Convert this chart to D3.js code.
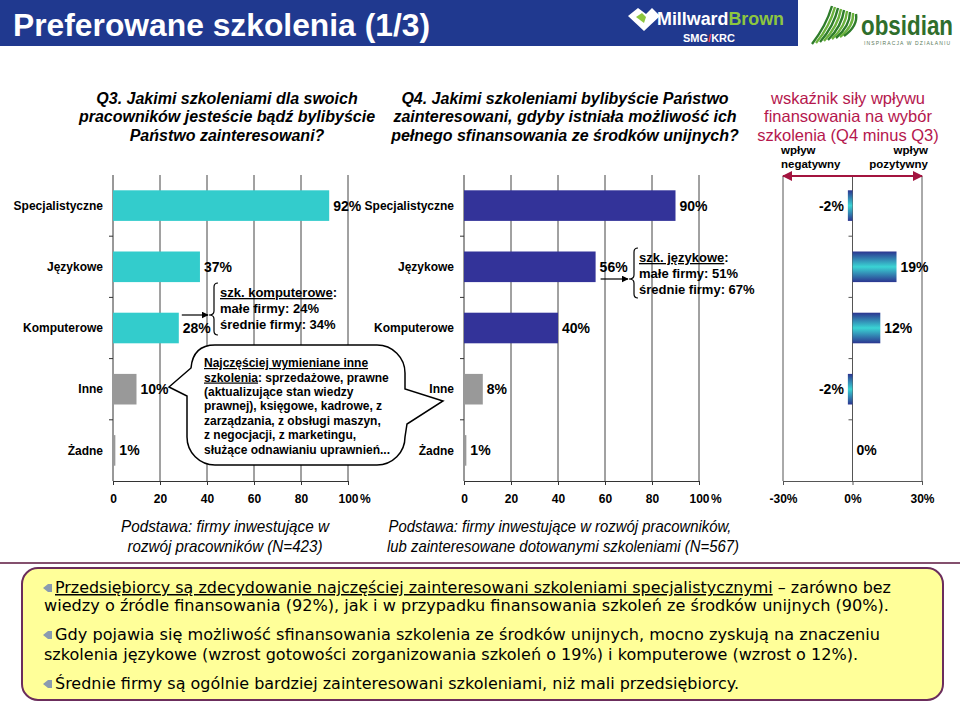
<!DOCTYPE html>
<html>
<head>
<meta charset="utf-8">
<script src="https://cdn.jsdelivr.net/npm/d3@7"></script>
<style>
  body { margin: 0; background: #fff; }
  svg { display: block; }
  text { font-family: "Liberation Sans", Arial, sans-serif; }
</style>
</head>
<body>
<div id="chart"></div>
<script>
// data
const categories = ["Specjalistyczne", "Językowe", "Komputerowe", "Inne", "Żadne"];
const q3Values = [92, 37, 28, 10, 1];
const q4Values = [90, 56, 40, 8, 1];
const diffValues = [-2, 19, 12, -2, 0];
const pctTicks = [0, 20, 40, 60, 80, 100];
const diffTicks = [-30, 0, 30];
const q3Colors = ["#33cccc", "#33cccc", "#33cccc", "#999999", "#999999"];
const q4Colors = ["#333399", "#333399", "#333399", "#999999", "#999999"];

const q3Title = ["Q3. Jakimi szkoleniami dla swoich", "pracowników jesteście bądź bylibyście", "Państwo zainteresowani?"];
const q4Title = ["Q4. Jakimi szkoleniami bylibyście Państwo", "zainteresowani, gdyby istniała możliwość ich", "pełnego sfinansowania ze środków unijnych?"];
const diffTitle = ["wskaźnik siły wpływu", "finansowania na wybór", "szkolenia (Q4 minus Q3)"];
const bubbleLines = ["(aktualizujące stan wiedzy", "prawnej), księgowe, kadrowe, z",
  "zarządzania, z obsługi maszyn,", "z negocjacji, z marketingu,", "służące odnawianiu uprawnień..."];

const width = 960;
const height = 706;
const plotTop = 175;
const plotBottom = 481;
const narrow = '"Liberation Sans Narrow", "Arial Narrow", "Liberation Sans", sans-serif';

const svg = d3.select("#chart").append("svg")
  .attr("width", width)
  .attr("height", height);

const defs = svg.append("defs");
const grad = defs.append("linearGradient")
  .attr("id", "diffGrad")
  .attr("x1", 0).attr("y1", 0).attr("x2", 0).attr("y2", 1);
grad.append("stop").attr("offset", "0%").attr("stop-color", "#2b3590");
grad.append("stop").attr("offset", "50%").attr("stop-color", "#3ad4d4");
grad.append("stop").attr("offset", "100%").attr("stop-color", "#2b3590");

// ---- header banner
svg.append("rect")
  .attr("x", 0).attr("y", 0)
  .attr("width", 798).attr("height", 46)
  .attr("fill", "#20398f");

svg.append("text")
  .attr("x", 13).attr("y", 36)
  .attr("fill", "#fff")
  .attr("font-size", 32)
  .attr("font-weight", "bold")
  .style("font-family", narrow)
  .attr("textLength", 417)
  .attr("lengthAdjust", "spacingAndGlyphs")
  .text("Preferowane szkolenia (1/3)");

// Millward Brown logo (rough)
const mb = svg.append("g");
mb.append("path")
  .attr("d", "M628,16 L638,8 L646,14 L652,8 L660,16 L644,31 Z")
  .attr("fill", "#fff");
mb.append("path")
  .attr("d", "M636,17 L642,13 L646,17 L644,23 Z")
  .attr("fill", "#8dc63f");
mb.append("text")
  .attr("x", 657).attr("y", 25)
  .attr("font-size", 18).attr("font-weight", "bold")
  .attr("textLength", 127).attr("lengthAdjust", "spacingAndGlyphs")
  .style("font-family", narrow)
  .call(t => {
    t.append("tspan").attr("fill", "#fff").text("Millward");
    t.append("tspan").attr("fill", "#8dc63f").text("Brown");
  });
mb.append("text")
  .attr("x", 683).attr("y", 42)
  .attr("font-size", 11).attr("font-weight", "bold")
  .call(t => {
    t.append("tspan").attr("fill", "#fff").text("SMG");
    t.append("tspan").attr("fill", "#ff3b3b").text("/");
    t.append("tspan").attr("fill", "#fff").text("KRC");
  });

// obsidian logo (rough)
const ob = svg.append("g");
d3.range(9).forEach(i => {
  ob.append("path")
    .attr("d", `M${812 + i * 4},${44 - i} Q${826 + i * 4},${26} ${832 + i * 3},${6 + i}`)
    .attr("fill", "none")
    .attr("stroke", i % 2 ? "#6bb23c" : "#2f7d2b")
    .attr("stroke-width", 2.4);
});
ob.append("text")
  .attr("x", 861).attr("y", 35)
  .attr("fill", "#2f6e2c")
  .attr("font-size", 28).attr("font-weight", "bold")
  .attr("textLength", 92).attr("lengthAdjust", "spacingAndGlyphs")
  .style("font-family", narrow)
  .text("obsidian");
ob.append("text")
  .attr("x", 864).attr("y", 45)
  .attr("fill", "#5a7a5a")
  .attr("font-size", 5)
  .attr("textLength", 86)
  .text("INSPIRACJA W DZIAŁANIU");

// ---- question titles
function titleBlock(lines, cx, opts) {
  svg.append("text")
    .attr("text-anchor", "middle")
    .attr("font-size", opts.size)
    .attr("font-weight", opts.weight)
    .attr("font-style", opts.style)
    .attr("fill", opts.color)
    .selectAll("tspan")
    .data(lines)
    .join("tspan")
    .attr("x", cx)
    .attr("y", (d, i) => 104 + i * 18.3)
    .text(d => d);
}
titleBlock(q3Title, 227, { size: 16, weight: "bold", style: "italic", color: "#000" });
titleBlock(q4Title, 565, { size: 16, weight: "bold", style: "italic", color: "#000" });
titleBlock(diffTitle, 848, { size: 16.5, weight: "normal", style: "normal", color: "#b5174d" });

// ---- shared band scale
const y = d3.scaleBand()
  .domain(categories)
  .range([plotTop, plotBottom])
  .paddingInner(0.5)
  .paddingOuter(0.25);
const gap = (y.step() - y.bandwidth()) / 2;
const boundaries = categories.map(c => y(c) - gap).slice(1);

function pctPanel(values, colors, x0, x1) {
  const x = d3.scaleLinear().domain([0, 100]).range([x0, x1]);
  const g = svg.append("g");

  g.selectAll("line.grid")
    .data(pctTicks.slice(1))
    .join("line")
    .attr("class", "grid")
    .attr("x1", x).attr("x2", x)
    .attr("y1", plotTop).attr("y2", plotBottom)
    .attr("stroke", "#444")
    .attr("stroke-width", 1);

  g.append("line")
    .attr("x1", x(0)).attr("x2", x(0))
    .attr("y1", plotTop).attr("y2", plotBottom)
    .attr("stroke", "#333");

  g.selectAll("line.ytick")
    .data(boundaries)
    .join("line")
    .attr("class", "ytick")
    .attr("x1", x(0) - 4).attr("x2", x(0))
    .attr("y1", d => d).attr("y2", d => d)
    .attr("stroke", "#333");

  const axis = d3.axisBottom(x)
    .tickValues(pctTicks)
    .tickSize(4)
    .tickSizeOuter(0)
    .tickPadding(9)
    .tickFormat(d => d);

  g.append("g")
    .attr("transform", `translate(0, ${plotBottom})`)
    .call(axis)
    .call(a => a.select(".domain").attr("stroke", "#333"))
    .call(a => a.selectAll(".tick line").attr("stroke", "#333"))
    .call(a => a.selectAll(".tick text")
      .attr("fill", "#000")
      .attr("font-size", 12)
      .attr("font-weight", "bold")
      .style("font-family", '"Liberation Sans", Arial, sans-serif'));

  g.append("text")
    .attr("x", x(100) + 12)
    .attr("y", plotBottom + 13)
    .attr("dy", "0.71em")
    .attr("font-size", 12)
    .attr("font-weight", "bold")
    .text("%");

  g.selectAll("rect.bar")
    .data(values)
    .join("rect")
    .attr("class", "bar")
    .attr("x", x(0))
    .attr("y", (d, i) => y(categories[i]))
    .attr("width", d => x(d) - x(0))
    .attr("height", y.bandwidth())
    .attr("fill", (d, i) => colors[i]);

  g.selectAll("text.cat")
    .data(categories)
    .join("text")
    .attr("class", "cat")
    .attr("x", x(0) - 10)
    .attr("y", d => y(d) + y.bandwidth() / 2)
    .attr("dy", "0.35em")
    .attr("text-anchor", "end")
    .attr("font-size", 12)
    .attr("font-weight", "bold")
    .text(d => d);

  g.selectAll("text.val")
    .data(values)
    .join("text")
    .attr("class", "val")
    .attr("x", d => x(d) + 4)
    .attr("y", (d, i) => y(categories[i]) + y.bandwidth() / 2)
    .attr("dy", "0.36em")
    .attr("font-size", 14)
    .attr("font-weight", "bold")
    .text(d => d + "%");

  return x;
}

const xQ3 = pctPanel(q3Values, q3Colors, 113, 348);
const xQ4 = pctPanel(q4Values, q4Colors, 464, 699);

// ---- difference panel
const xD = d3.scaleLinear().domain([-30, 30]).range([783, 922]);
const gd = svg.append("g");

gd.selectAll("line.vline")
  .data(diffTicks)
  .join("line")
  .attr("class", "vline")
  .attr("x1", xD).attr("x2", xD)
  .attr("y1", plotTop + 1).attr("y2", plotBottom)
  .attr("stroke", "#555");

gd.selectAll("line.ytick")
  .data(boundaries)
  .join("line")
  .attr("class", "ytick")
  .attr("x1", xD(0) - 4).attr("x2", xD(0))
  .attr("y1", d => d).attr("y2", d => d)
  .attr("stroke", "#555");

gd.append("g")
  .attr("transform", `translate(0, ${plotBottom})`)
  .call(d3.axisBottom(xD)
    .tickValues(diffTicks)
    .tickSize(4)
    .tickSizeOuter(0)
    .tickPadding(9)
    .tickFormat(d => d + "%"))
  .call(a => a.select(".domain").attr("stroke", "#555"))
  .call(a => a.selectAll(".tick line").attr("stroke", "#555"))
  .call(a => a.selectAll(".tick text")
    .attr("fill", "#000")
    .attr("font-size", 12)
    .attr("font-weight", "bold")
    .style("font-family", '"Liberation Sans", Arial, sans-serif'));

gd.selectAll("rect.bar")
  .data(diffValues)
  .join("rect")
  .attr("class", "bar")
  .attr("x", d => xD(Math.min(0, d)))
  .attr("y", (d, i) => y(categories[i]))
  .attr("width", d => Math.abs(xD(d) - xD(0)))
  .attr("height", y.bandwidth())
  .attr("fill", "url(#diffGrad)");

gd.selectAll("text.val")
  .data(diffValues)
  .join("text")
  .attr("class", "val")
  .attr("x", d => d < 0 ? xD(d) - 4 : xD(d) + 4)
  .attr("y", (d, i) => y(categories[i]) + y.bandwidth() / 2)
  .attr("dy", "0.36em")
  .attr("text-anchor", d => d < 0 ? "end" : "start")
  .attr("font-size", 14)
  .attr("font-weight", "bold")
  .text(d => d + "%");

// negative / positive arrow
defs.append("marker")
  .attr("id", "redHead")
  .attr("viewBox", "0 0 10 10")
  .attr("refX", 9).attr("refY", 5)
  .attr("markerWidth", 5).attr("markerHeight", 5)
  .attr("orient", "auto-start-reverse")
  .append("path")
  .attr("d", "M0,0 L10,5 L0,10 Z")
  .attr("fill", "#a3143f");

gd.append("line")
  .attr("x1", xD(-30)).attr("x2", xD(30))
  .attr("y1", plotTop + 1).attr("y2", plotTop + 1)
  .attr("stroke", "#a3143f")
  .attr("stroke-width", 2)
  .attr("marker-start", "url(#redHead)")
  .attr("marker-end", "url(#redHead)");

gd.append("text")
  .attr("font-size", 11.5).attr("font-weight", "bold")
  .selectAll("tspan")
  .data(["wpływ", "negatywny"])
  .join("tspan")
  .attr("x", 781)
  .attr("y", (d, i) => 154 + i * 14)
  .text(d => d);

gd.append("text")
  .attr("font-size", 11.5).attr("font-weight", "bold")
  .attr("text-anchor", "end")
  .selectAll("tspan")
  .data(["wpływ", "pozytywny"])
  .join("tspan")
  .attr("x", 928)
  .attr("y", (d, i) => 154 + i * 14)
  .text(d => d);

// ---- arrows + braces with subgroup notes
defs.append("marker")
  .attr("id", "blackHead")
  .attr("viewBox", "0 0 10 10")
  .attr("refX", 9).attr("refY", 5)
  .attr("markerWidth", 7).attr("markerHeight", 7)
  .attr("markerUnits", "userSpaceOnUse")
  .attr("orient", "auto")
  .append("path")
  .attr("d", "M0,0 L10,5 L0,10 Z")
  .attr("fill", "#000");

function braceNote(ax0, ay, bx, by0, by1, tx, lines) {
  svg.append("line")
    .attr("x1", ax0).attr("x2", bx - 6)
    .attr("y1", ay).attr("y2", ay)
    .attr("stroke", "#000")
    .attr("stroke-width", 1.2)
    .attr("marker-end", "url(#blackHead)");

  const p = d3.path();
  p.moveTo(bx + 4, by0);
  p.quadraticCurveTo(bx, by0, bx, by0 + 4);
  p.lineTo(bx, ay - 4);
  p.quadraticCurveTo(bx, ay, bx - 5, ay);
  p.quadraticCurveTo(bx, ay, bx, ay + 4);
  p.lineTo(bx, by1 - 4);
  p.quadraticCurveTo(bx, by1, bx + 4, by1);
  svg.append("path")
    .attr("d", p.toString())
    .attr("fill", "none")
    .attr("stroke", "#000")
    .attr("stroke-width", 1.2);

  const t = svg.append("text")
    .attr("font-size", 13)
    .attr("font-weight", "bold");
  const first = t.append("tspan").attr("x", tx).attr("y", by0 + 14);
  first.append("tspan").attr("text-decoration", "underline").text(lines[0]);
  first.append("tspan").text(":");
  lines.slice(1).forEach((l, i) => {
    t.append("tspan").attr("x", tx).attr("y", by0 + 30 + i * 16).text(l);
  });
}
braceNote(xQ3(28) + 3, 315, 214, 283, 335, 220,
  ["szk. komputerowe", "małe firmy: 24%", "średnie firmy: 34%"]);
braceNote(xQ4(56) + 5, 279, 634, 248, 298, 639,
  ["szk. językowe", "małe firmy: 51%", "średnie firmy: 67%"]);

// ---- speech bubble
const bx0 = 187, bx1 = 405, by0 = 345, by1 = 465, br = 28;
const bp = d3.path();
bp.moveTo(bx0 + br, by0);
bp.lineTo(bx1 - br, by0);
bp.arcTo(bx1, by0, bx1, by0 + br, br);
bp.lineTo(bx1, 389);
bp.lineTo(443, 401);
bp.lineTo(bx1 + 2, 424);
bp.lineTo(bx1, by1 - br);
bp.arcTo(bx1, by1, bx1 - br, by1, br);
bp.lineTo(bx0 + br, by1);
bp.arcTo(bx0, by1, bx0, by1 - br, br);
bp.lineTo(bx0, 396);
bp.lineTo(169, 387);
bp.lineTo(bx0 + 4, 368);
bp.quadraticCurveTo(bx0 + 6, by0, bx0 + br, by0);
bp.closePath();
svg.append("path")
  .attr("d", bp.toString())
  .attr("fill", "#fff")
  .attr("stroke", "#000")
  .attr("stroke-width", 1.5);

const bt = svg.append("text")
  .attr("font-size", 12)
  .attr("font-weight", "bold");
bt.append("tspan").attr("x", 204).attr("y", 367)
  .attr("text-decoration", "underline")
  .text("Najczęściej wymieniane inne");
const bl2 = bt.append("tspan").attr("x", 204).attr("y", 381.5);
bl2.append("tspan").attr("text-decoration", "underline").text("szkolenia");
bl2.append("tspan").text(": sprzedażowe, prawne");
bubbleLines.forEach((l, i) => {
  bt.append("tspan").attr("x", 204).attr("y", 396 + i * 14.4).text(l);
});

// ---- base captions
function caption(line, cx, yPos, len) {
  svg.append("text")
    .attr("x", cx - len / 2)
    .attr("y", yPos)
    .attr("font-size", 17)
    .attr("font-style", "italic")
    .style("font-family", narrow)
    .attr("textLength", len)
    .attr("lengthAdjust", "spacingAndGlyphs")
    .text(line);
}
caption("Podstawa: firmy inwestujące w", 225, 532, 208);
caption("rozwój pracowników (N=423)", 225, 552, 195);
caption("Podstawa: firmy inwestujące w rozwój pracowników,", 560, 532, 343);
caption("lub zainteresowane dotowanymi szkoleniami (N=567)", 563, 552, 352);

svg.append("line")
  .attr("x1", 0).attr("x2", width)
  .attr("y1", 563).attr("y2", 563)
  .attr("stroke", "#84506e")
  .attr("stroke-width", 2);

// ---- summary box
svg.append("rect")
  .attr("x", 22).attr("y", 568)
  .attr("width", 921).attr("height", 132)
  .attr("rx", 16)
  .attr("fill", "#ffff99")
  .attr("stroke", "#6b2d5c")
  .attr("stroke-width", 2);

function bullet(bx, by) {
  svg.append("path")
    .attr("d", `M${bx},${by} L${bx + 5},${by - 4} L${bx + 9},${by - 4} L${bx + 9},${by + 4} L${bx + 5},${by + 4} Z`)
    .attr("fill", "#8a9bb0");
}

const boxFont = '"DejaVu Sans", Verdana, sans-serif';
function boxLine(x, yPos, len, parts) {
  const t = svg.append("text")
    .attr("x", x).attr("y", yPos)
    .attr("font-size", 15)
    .style("font-family", boxFont)
    .attr("textLength", len)
    .attr("lengthAdjust", "spacingAndGlyphs");
  parts.forEach(p => {
    t.append("tspan")
      .attr("text-decoration", p.u ? "underline" : null)
      .text(p.s);
  });
}

bullet(43, 588);
boxLine(55, 593, 836, [
  { s: "Przedsiębiorcy są zdecydowanie najczęściej zainteresowani szkoleniami specjalistycznymi", u: true },
  { s: " – zarówno bez" }]);
boxLine(44, 611, 845, [{ s: "wiedzy o źródle finansowania (92%), jak i w przypadku finansowania szkoleń ze środków unijnych (90%)." }]);
bullet(43, 635);
boxLine(55, 640, 825, [{ s: "Gdy pojawia się możliwość sfinansowania szkolenia ze środków unijnych, mocno zyskują na znaczeniu" }]);
boxLine(44, 660, 814, [{ s: "szkolenia językowe (wzrost gotowości zorganizowania szkoleń o 19%) i komputerowe (wzrost o 12%)." }]);
bullet(43, 684);
boxLine(55, 689, 684, [{ s: "Średnie firmy są ogólnie bardziej zainteresowani szkoleniami, niż mali przedsiębiorcy." }]);
</script>
</body>
</html>
